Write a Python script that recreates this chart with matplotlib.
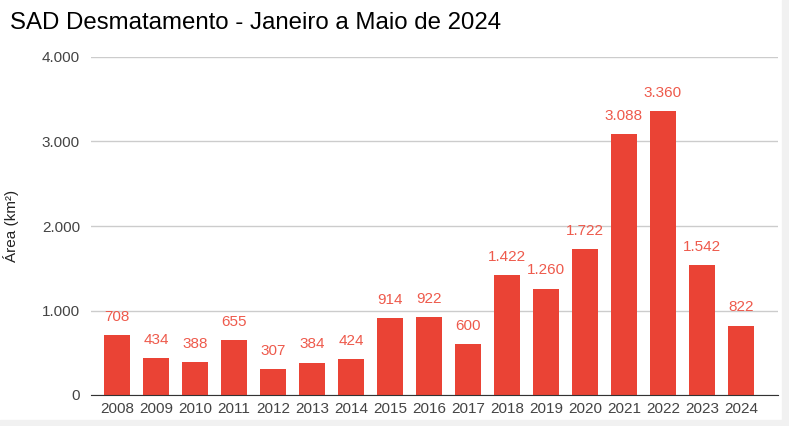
import matplotlib.pyplot as plt
from matplotlib.patches import Rectangle

plt.rcParams['font.family'] = ['Liberation Sans', 'DejaVu Sans']

anos = ['2008', '2009', '2010', '2011', '2012', '2013', '2014', '2015', '2016',
        '2017', '2018', '2019', '2020', '2021', '2022', '2023', '2024']
area = [708, 434, 388, 655, 307, 384, 424, 914, 922, 600, 1422, 1260, 1722,
        3088, 3360, 1542, 822]
yticks = [0, 1000, 2000, 3000, 4000]
ytick_labels = ['0', '1.000', '2.000', '3.000', '4.000']

def fmt(v):
    return f'{v:,}'.replace(',', '.')

fig = plt.figure(figsize=(7.89, 4.26), dpi=100)
# light grey border at right/bottom like the screenshot
fig.patches.append(Rectangle((782/789, 0), 1, 1, transform=fig.transFigure, color='#f1f1f1', zorder=0))
fig.patches.append(Rectangle((0, 0), 1, 6/426, transform=fig.transFigure, color='#f1f1f1', zorder=0))

ax = fig.add_axes([91/789, 31/426, 687/789, 338/426])
x = range(len(anos))
bars = ax.bar(x, area, width=0.66, color='#ea4335', zorder=3)
for xi, v in zip(x, area):
    ax.annotate(fmt(v), (xi, v), xytext=(0, 8), textcoords='offset points',
                ha='center', va='bottom', color='#ee5a4c', fontsize=11)

ax.set_xlim(-0.67, 16.95)
ax.set_ylim(0, 4000)
ax.set_yticks(yticks)
ax.set_yticklabels(ytick_labels)
ax.set_xticks(list(x))
ax.set_xticklabels(anos)
ax.grid(axis='y', color='#cccccc', linewidth=1, zorder=0)
for s in ['top', 'right', 'left']:
    ax.spines[s].set_visible(False)
ax.spines['bottom'].set_color('#333333')
ax.spines['bottom'].set_zorder(4)
ax.tick_params(axis='both', length=0, labelsize=11, colors='#444444', pad=5)
ax.tick_params(axis='y', pad=8)
ax.set_ylabel('Área (km²)', fontsize=11, color='#222222')
ax.yaxis.set_label_coords(-(91 - 19) / 687, 0.5)

fig.text(10/789, 1 - 23/426, 'SAD Desmatamento - Janeiro a Maio de 2024',
         fontsize=17.3, color='#000000', va='center', ha='left')

fig.savefig('out.png', dpi=100)
